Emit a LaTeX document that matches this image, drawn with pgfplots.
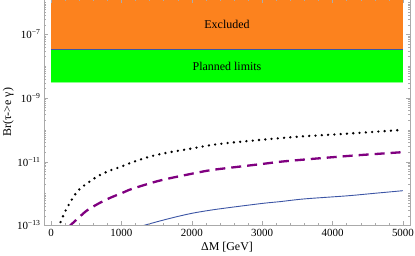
\documentclass[border=0pt]{standalone}
\usepackage{pgfplots}
\pgfplotsset{compat=1.18}
\usepackage{fontspec}
\setmainfont{Liberation Serif}
\definecolor{exorange}{RGB}{252,130,30}
\definecolor{plgreen}{RGB}{0,255,0}
\definecolor{edgegreen}{RGB}{140,255,140}
\definecolor{mblue}{RGB}{60,85,165}
\definecolor{mpurple}{RGB}{128,0,128}
\definecolor{framegray}{RGB}{170,170,170}
\begin{document}
\begin{tikzpicture}
\begin{axis}[
  scale only axis, width=366bp, height=226bp,
  ymode=log, xmin=-100, xmax=5100, ymin=1e-13, ymax=1.25e-6,
  axis line style={framegray, line width=0.5pt},
  tick style={framegray, line width=0.4pt},
  tick align=inside,
  major tick length=4bp, minor tick length=2bp,
  xtick={0,1000,2000,3000,4000,5000}, minor x tick num=4,
  ytick={1e-13,1e-11,1e-9,1e-7},
  yticklabels={10\textsuperscript{−13},10\textsuperscript{−11},10\textsuperscript{−9},10\textsuperscript{−7}},
  minor ytick={2e-13,3e-13,4e-13,5e-13,6e-13,7e-13,8e-13,9e-13,1e-12,
    2e-12,3e-12,4e-12,5e-12,6e-12,7e-12,8e-12,9e-12,
    2e-11,3e-11,4e-11,5e-11,6e-11,7e-11,8e-11,9e-11,1e-10,
    2e-10,3e-10,4e-10,5e-10,6e-10,7e-10,8e-10,9e-10,
    2e-9,3e-9,4e-9,5e-9,6e-9,7e-9,8e-9,9e-9,1e-8,
    2e-8,3e-8,4e-8,5e-8,6e-8,7e-8,8e-8,9e-8,
    2e-7,3e-7,4e-7,5e-7,6e-7,7e-7,8e-7,9e-7,1e-6},
  ticklabel style={font=\fontsize{11}{11}\selectfont},
  /pgf/number format/assume math mode=true,
  /pgf/number format/set thousands separator={},
  xlabel={ΔM [GeV]}, ylabel={Br(τ->e γ)},
  label style={font=\fontsize{12}{12}\selectfont},
  xlabel style={at={(axis description cs:0.5,-0.097)}, anchor=center},
  ylabel style={at={(axis description cs:-0.098,0.5)}, anchor=center},
  axis on top,
]
\addplot[fill=exorange, draw=none] coordinates {(0,3.3e-8) (5000,3.3e-8) (5000,1.25e-6) (0,1.25e-6)} -- cycle;
\addplot[fill=plgreen, draw=none] coordinates {(0,3e-9) (5000,3e-9) (5000,3.3e-8) (0,3.3e-8)} -- cycle;
\addplot[edgegreen, line width=1pt] coordinates {(0,3e-9) (5000,3e-9)};
\addplot[mblue, line width=1pt] coordinates {(0,3.3e-8) (5000,3.3e-8)};
\node[font=\fontsize{12}{12}\selectfont] at (axis cs:2500,2e-7) {Excluded};
\node[font=\fontsize{12}{12}\selectfont] at (axis cs:2500,1e-8) {Planned limits};
% dotted black
\addplot[black, line width=2.6bp, dash pattern=on 0pt off 6.3bp, line cap=round, smooth] coordinates {
(105,8.3e-14) (121,1.07e-13) (202,2.8e-13) (297,6.6e-13) (392,1.29e-12) (525,2.19e-12)
(668,3.55e-12) (820,5.1e-12) (987,6.9e-12) (1138,9.3e-12) (1405,1.45e-11) (1666,1.95e-11)
(2000,2.6e-11) (2261,3.3e-11) (2499,3.85e-11) (3000,4.9e-11) (3260,5.5e-11) (3600,6.3e-11)
(4211,7.6e-11) (4600,8.7e-11) (5000,1.0e-10)};
% dashed purple
\addplot[mpurple, line width=2.3bp, dash pattern=on 10bp off 6bp, smooth] coordinates {
(260,8.9e-14) (274,1.0e-13) (392,1.74e-13) (511,2.95e-13) (678,4.9e-13) (844,7.4e-13)
(1034,1.10e-12) (1153,1.41e-12) (1548,2.57e-12) (2000,4.2e-12) (2261,5.4e-12) (2499,6.3e-12)
(3000,8.5e-12) (3260,1.0e-11) (3600,1.17e-11) (4211,1.51e-11) (4600,1.74e-11) (5000,2.0e-11)};
% solid blue
\addplot[mblue, line width=0.9bp, smooth] coordinates {
(1300,9.5e-14) (1320,1.0e-13) (1548,1.38e-13) (1800,1.91e-13) (2023,2.45e-13) (2261,3.0e-13)
(2499,3.55e-13) (3000,4.9e-13) (3260,5.6e-13) (3600,6.8e-13) (4211,8.5e-13) (4600,1.02e-12)
(5000,1.23e-12)};
\end{axis}
\pgfresetboundingbox
\path[use as bounding box] ([shift={(-44bp,-30bp)}]current axis.south west) rectangle ([shift={(5bp,-0.6bp)}]current axis.north east);
\end{tikzpicture}
\end{document}
